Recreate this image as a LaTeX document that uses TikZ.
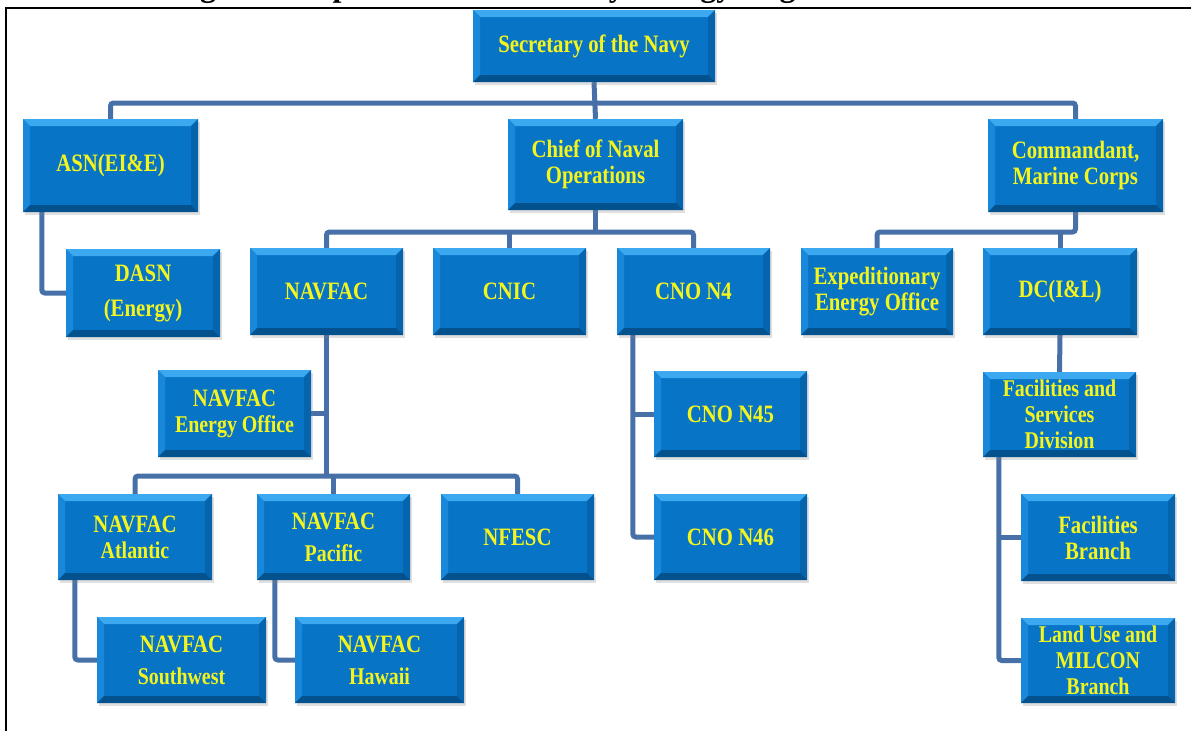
\documentclass[tikz,border=0pt]{standalone}
\usepackage{fontspec}
\newfontfamily\boxfont[FakeStretch=0.83]{Liberation Serif}
\newfontfamily\titlefont{Liberation Serif}
\usetikzlibrary{shadows,backgrounds,calc}
\definecolor{boxblue}{RGB}{8,116,198}
\definecolor{bevtop}{RGB}{60,168,240}
\definecolor{bevleft}{RGB}{26,136,218}
\definecolor{bevright}{RGB}{6,100,172}
\definecolor{bevbot}{RGB}{3,82,142}
\definecolor{txtyellow}{RGB}{245,245,30}
\definecolor{connblue}{RGB}{72,112,168}
\tikzset{
  orgbox/.style={
    fill=boxblue, draw=none, text=txtyellow, align=center,
    font=\boxfont\bfseries\fontsize{25}{26}\selectfont,
    inner sep=2pt,
    drop shadow={opacity=0.25, shadow xshift=1.5pt, shadow yshift=-3pt},
    path picture={
      \def\bv{7pt}
      \fill[bevtop] (path picture bounding box.north west) -- (path picture bounding box.north east)
        -- ([xshift=-\bv,yshift=-\bv]path picture bounding box.north east)
        -- ([xshift=\bv,yshift=-\bv]path picture bounding box.north west) -- cycle;
      \fill[bevleft] (path picture bounding box.north west) -- ([xshift=\bv,yshift=-\bv]path picture bounding box.north west)
        -- ([xshift=\bv,yshift=\bv]path picture bounding box.south west)
        -- (path picture bounding box.south west) -- cycle;
      \fill[bevright] (path picture bounding box.north east) -- ([xshift=-\bv,yshift=-\bv]path picture bounding box.north east)
        -- ([xshift=-\bv,yshift=\bv]path picture bounding box.south east)
        -- (path picture bounding box.south east) -- cycle;
      \fill[bevbot] (path picture bounding box.south west) -- (path picture bounding box.south east)
        -- ([xshift=-\bv,yshift=\bv]path picture bounding box.south east)
        -- ([xshift=\bv,yshift=\bv]path picture bounding box.south west) -- cycle;
    }},
  conn/.style={draw=connblue, line width=5pt, rounded corners=3pt},
  smallbox/.style={font=\boxfont\bfseries\fontsize{24}{26}\selectfont}
}
\newcommand{\sm}[1]{{\fontsize{24}{26}\selectfont #1}}
\begin{document}
\begin{tikzpicture}[x=1pt,y=-1pt]
\useasboundingbox (0,0) rectangle (1191,731);
% clipped title
\begin{scope}
\clip (0,0) rectangle (1191,7);
\node[anchor=base west, inner sep=0pt, font=\titlefont\bfseries\fontsize{32}{36}\selectfont] (tA) at (171.6,-4) {Figure 2.};
\node[anchor=base west, inner sep=0pt, font=\titlefont\bfseries\fontsize{32}{36}\selectfont] (tB) at (295,-4) {Department of the Navy Energy Organization};
\end{scope}
% frame
\draw[line width=2pt] (6,731) -- (6,8) -- (1191,8);

% boxes
\node[orgbox, minimum width=242pt, minimum height=72pt] (sec) at (594,46) {Secretary of the Navy};
\node[orgbox, minimum width=175pt, minimum height=93pt] (asn) at (110.5,165.5) {ASN(EI\&E)};
\node[orgbox, minimum width=175pt, minimum height=91pt] (cno) at (595.5,164.5) {Chief of Naval\\Operations};
\node[orgbox, minimum width=175pt, minimum height=93pt] (cmc) at (1075.5,165.5) {Commandant,\\Marine Corps};
\node[orgbox, minimum width=154pt, minimum height=88pt] (dasn) at (143,293) {DASN\\[9pt](Energy)};
\node[orgbox, minimum width=153pt, minimum height=87pt] (navfac) at (326.5,291.5) {NAVFAC};
\node[orgbox, minimum width=153pt, minimum height=87pt] (cnic) at (509.5,291.5) {CNIC};
\node[orgbox, minimum width=153pt, minimum height=87pt] (n4) at (693.5,291.5) {CNO N4};
\node[orgbox, minimum width=152pt, minimum height=87pt] (exp) at (877,291.5) {Expeditionary\\Energy Office};
\node[orgbox, minimum width=154pt, minimum height=87pt] (dc) at (1060,291.5) {DC(I\&L)};
\node[orgbox, minimum width=153pt, minimum height=87pt] (neo) at (234.5,413.5) {NAVFAC\\\sm{Energy Office}};
\node[orgbox, minimum width=153pt, minimum height=86pt] (n45) at (730.5,414) {CNO N45};
\node[orgbox, smallbox, minimum width=153pt, minimum height=85pt] (fsd) at (1059.5,414.5) {Facilities and\\Services\\Division};
\node[orgbox, minimum width=154pt, minimum height=86pt] (atl) at (135,537) {NAVFAC\\\sm{Atlantic}};
\node[orgbox, minimum width=153pt, minimum height=86pt] (pac) at (333.5,537) {NAVFAC\\[6pt]\sm{Pacific}};
\node[orgbox, minimum width=153pt, minimum height=86pt] (nfesc) at (517.5,537) {NFESC};
\node[orgbox, minimum width=153pt, minimum height=86pt] (n46) at (730.5,537) {CNO N46};
\node[orgbox, minimum width=154pt, minimum height=87pt] (fb) at (1098,537.5) {Facilities\\Branch};
\node[orgbox, minimum width=169pt, minimum height=86pt] (sw) at (181.5,660) {NAVFAC\\[6pt]\sm{Southwest}};
\node[orgbox, minimum width=169pt, minimum height=86pt] (haw) at (379.5,660) {NAVFAC\\[6pt]\sm{Hawaii}};
\node[orgbox, smallbox, minimum width=154pt, minimum height=85pt] (lu) at (1098,660.5) {Land Use and\\MILCON\\Branch};

\coordinate (bus1) at (0,103);
\coordinate (bus2) at (0,232);
\coordinate (bus3) at (0,476);
\coordinate (n4trunk) at ([xshift=16pt]n4.south west);
\coordinate (fsdtrunk) at ([xshift=16pt]fsd.south west);

\begin{pgfonlayer}{background}
\draw[conn] (asn.north) |- (cmc.north |- bus1) -- (cmc.north);
\draw[conn] (sec.south) -- (cno.north);
\draw[conn] ([xshift=19pt]asn.south west) |- (dasn.west);
\draw[conn] (navfac.north) |- (n4.north |- bus2) -- (n4.north);
\draw[conn] (cno.south) -- (cno.south |- bus2);
\draw[conn] (cnic.north) -- (cnic.north |- bus2);
\draw[conn] (cmc.south) |- (exp.north |- bus2) -- (exp.north);
\draw[conn] (dc.north) -- (dc.north |- bus2);
\draw[conn] (navfac.south) -- (navfac.south |- bus3);
\draw[conn] (neo.east) -- (neo.east -| navfac.south);
\draw[conn] (atl.north) |- (nfesc.north |- bus3) -- (nfesc.north);
\draw[conn] (pac.north) -- (pac.north |- bus3);
\draw[conn] ([xshift=17pt]atl.south west) |- (sw.west);
\draw[conn] ([xshift=18pt]pac.south west) |- (haw.west);
\draw[conn] (n4trunk) |- (n46.west);
\draw[conn] (n45.west) -- (n45.west -| n4trunk);
\draw[conn] (dc.south) -- (fsd.north);
\draw[conn] (fsdtrunk) |- (lu.west);
\draw[conn] (fb.west) -- (fb.west -| fsdtrunk);
\end{pgfonlayer}
\end{tikzpicture}
\end{document}
